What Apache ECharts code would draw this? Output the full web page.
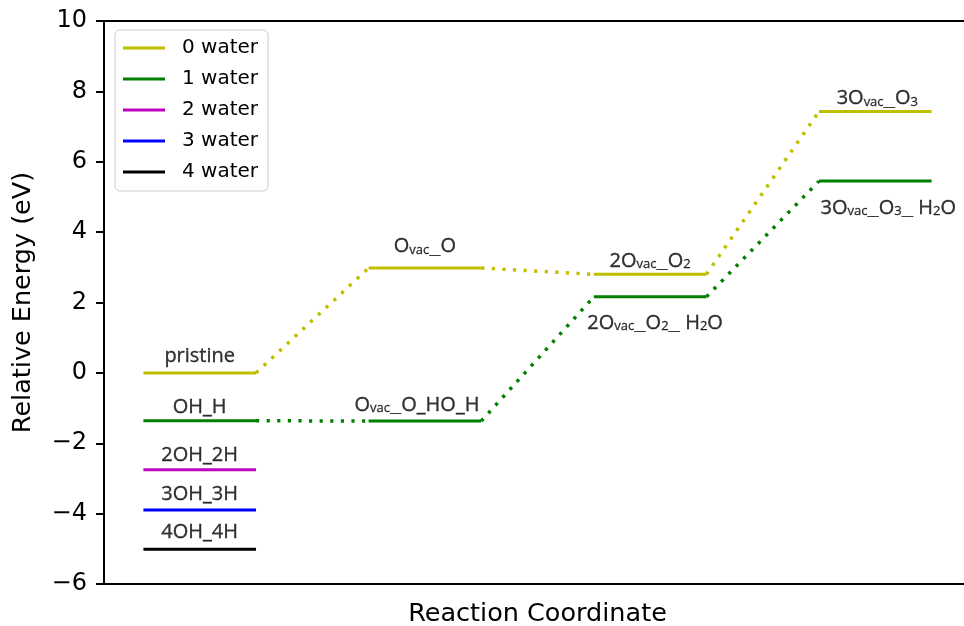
<!DOCTYPE html>
<html><head><meta charset="utf-8">
<script src="https://cdn.jsdelivr.net/npm/echarts@6/dist/echarts.min.js"></script>
<style>html,body{margin:0;padding:0;background:#fff}#c{width:964px;height:626px}</style>
</head><body><div id="c"></div>
<script>
// ---- data ----
const stages = [0, 1, 2, 3];
const seriesNames = ['0 water', '1 water', '2 water', '3 water', '4 water'];
const water0 = [0.00, 2.98, 2.80, 7.43];
const water1 = [-1.36, -1.37, 2.16, 5.45];
const water2 = [-2.75];
const water3 = [-3.90];
const water4 = [-5.01];
const labels0 = ['{m|pristine}', '{m|O}{s|vac__}{m|O}', '{m|2O}{s|vac__}{m|O}{s|2}', '{m|3O}{s|vac__}{m|O}{s|3}'];
const labels1 = ['{m|OH_H}', '{m|O}{s|vac__}{m|O_HO_H}', '{m|2O}{s|vac__}{m|O}{s|2__}{m| H}{s|2}{m|O}', '{m|3O}{s|vac__}{m|O}{s|3__}{m| H}{s|2}{m|O}'];
const labels2 = ['{m|2OH_2H}'];
const labels3 = ['{m|3OH_3H}'];
const labels4 = ['{m|4OH_4H}'];
const yTicks = [-6, -4, -2, 0, 2, 4, 6, 8, 10];

// ---- styles ----
const colors = ['#bfbf00', '#008000', '#bf00bf', '#0000ff', '#000000'];
const labelGaps = [[10, 14.7, 6.3, 6], [6, 9, -31, -32], [7], [9.3], [10]];
const labelDx = [[0, 0, 0, 2], [0, -8, 5, 13], [0], [0], [0]];
const levelHalf = 0.5;

const groups = [
  { vals: water0, labels: labels0 },
  { vals: water1, labels: labels1 },
  { vals: water2, labels: labels2 },
  { vals: water3, labels: labels3 },
  { vals: water4, labels: labels4 }
];

const rich = {
  m: { fontSize: 20, fontFamily: 'Open Sans', lineHeight: 20, padding: [0, 0, 5, 0], verticalAlign: 'top', color: '#000', textBorderColor: '#000', textBorderWidth: 0.35 },
  s: { fontSize: 13, fontFamily: 'Open Sans', lineHeight: 13, padding: [12, 0, 0, 0], verticalAlign: 'bottom', color: '#000', textBorderColor: '#000', textBorderWidth: 0.3 }
};

const series = [];
groups.forEach((g, gi) => {
  g.vals.forEach((v, i) => {
    series.push({
      type: 'line', name: seriesNames[gi], silent: true, animation: false,
      data: [[stages[i], v], [stages[i] + levelHalf, v]],
      symbol: 'none', z: 4,
      lineStyle: { color: colors[gi], width: 3, cap: 'butt' },
      itemStyle: { color: colors[gi] }
    });
  });
});
groups.forEach((g, gi) => {
  for (let i = 0; i < g.vals.length - 1; i++) {
    series.push({
      type: 'line', name: seriesNames[gi], silent: true, animation: false,
      data: [[stages[i] + levelHalf, g.vals[i]], [stages[i + 1], g.vals[i + 1]]],
      symbol: 'none', z: 3,
      lineStyle: { color: colors[gi], width: 3.5, type: [3.2, 7.4], cap: 'butt' },
      itemStyle: { color: colors[gi] }
    });
  }
  g.vals.forEach((v, i) => {
    const gap = labelGaps[gi][i];
    series.push({
      type: 'scatter', silent: true, animation: false, z: 5,
      data: [[stages[i] + levelHalf / 2, v]],
      symbolSize: 0,
      itemStyle: { color: 'transparent' },
      label: {
        show: true, color: '#000',
        position: gap > 0 ? 'top' : 'bottom',
        distance: 0,
        offset: [labelDx[gi][i], gap > 0 ? 3 - gap : -gap - 15],
        formatter: g.labels[i],
        rich: rich
      }
    });
  });
});

const chart = echarts.init(document.getElementById('c'), null, { renderer: 'canvas' });
chart.setOption({
  backgroundColor: '#ffffff',
  animation: false,
  grid: { left: 104, top: 21, bottom: 42, right: -7, outerBoundsMode: 'none', containLabel: false },
  legend: {
    data: seriesNames.map((n, i) => ({ name: n, icon: 'rect', itemStyle: { color: colors[i] } })),
    orient: 'vertical', left: 115, top: 30,
    padding: [8, 10, 9, 8],
    itemWidth: 42, itemHeight: 3, itemGap: 11,
    backgroundColor: 'rgba(255,255,255,0.8)',
    borderColor: '#cccccc', borderWidth: 1, borderRadius: 5,
    textStyle: { fontSize: 20, fontFamily: 'DejaVu Sans', color: '#000', padding: [0, 0, 0, 12], lineHeight: 20 },
    selectedMode: false
  },
  xAxis: [{
    type: 'value', min: -0.175, max: 3.675,
    name: 'Reaction Coordinate', nameLocation: 'middle', nameGap: 17,
    nameTextStyle: { fontSize: 25.5, fontFamily: 'DejaVu Sans', color: '#000', verticalAlign: 'top' },
    axisLine: { show: true, onZero: false, lineStyle: { color: '#000', width: 2 } },
    axisTick: { show: false }, axisLabel: { show: false }, splitLine: { show: false }
  }, {
    type: 'value', position: 'top', min: -0.175, max: 3.675,
    axisLine: { show: true, onZero: false, lineStyle: { color: '#000', width: 2 } },
    axisTick: { show: false }, axisLabel: { show: false }, splitLine: { show: false }
  }],
  yAxis: {
    type: 'value', min: yTicks[0], max: yTicks[yTicks.length - 1], interval: 2,
    name: 'Relative Energy (eV)', nameLocation: 'middle', nameGap: 68, nameRotate: 90,
    nameTextStyle: { fontSize: 25.5, fontFamily: 'DejaVu Sans', color: '#000' },
    axisLine: { show: true, onZero: false, lineStyle: { color: '#000', width: 2 } },
    axisTick: { show: true, length: 8, lineStyle: { color: '#000', width: 2 } },
    axisLabel: { fontSize: 24, fontFamily: 'DejaVu Sans', color: '#000', margin: 17,
      formatter: v => (v < 0 ? '\u2212' + Math.abs(v) : String(v)) },
    splitLine: { show: false }
  },
  series: series
});
</script>
</body></html>
